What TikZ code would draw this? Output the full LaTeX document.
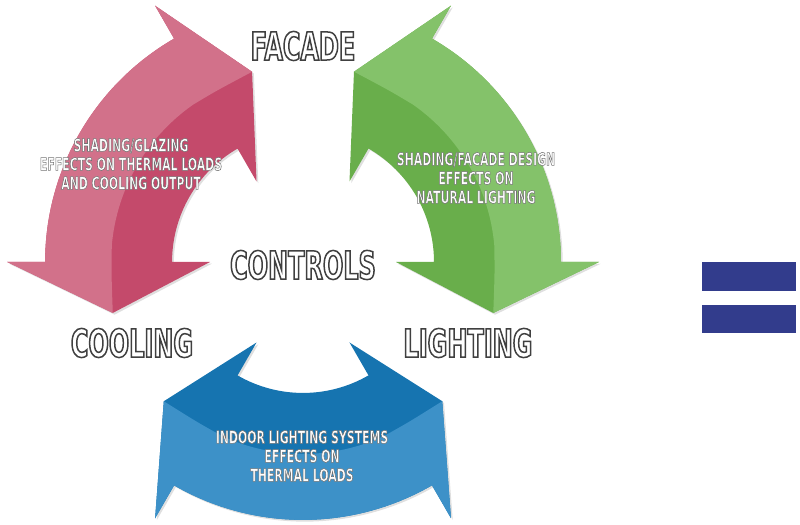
\documentclass[tikz,border=0pt]{standalone}
\usepackage{fontspec}
\setmainfont{DejaVu Sans}
\newfontfamily\narrowfont[FakeStretch=0.62]{DejaVu Sans}
\usetikzlibrary{shadows}

\definecolor{pinklight}{HTML}{D2718A}
\definecolor{pinkdark}{HTML}{C44A6B}
\definecolor{greenlight}{HTML}{84C26A}
\definecolor{greendark}{HTML}{69AE4B}
\definecolor{bluelight}{HTML}{3D91C8}
\definecolor{bluedark}{HTML}{1674B0}
\definecolor{barblue}{HTML}{323C8C}

% white letters with a grey rim (fill + stroke render mode)
\newcommand\rimtext[3]{\special{pdf:literal direct 2 Tr #1 w #2 G}#3\special{pdf:literal direct 0 Tr}}

\tikzset{
  cycletitle/.style={font=\narrowfont\bfseries\fontsize{22}{24}\selectfont, text=white},
  cyclenote/.style={font=\narrowfont\bfseries\fontsize{10}{10.8}\selectfont,
    text=white, align=center, inner sep=0pt},
  arrowshadow/.style={drop shadow={shadow xshift=1pt, shadow yshift=-1pt,
    opacity=0.25}}
}

% one curved double arrow over 0..60 degrees, turned by #1
\newcommand\cyclearrow[3]{%
  \begin{scope}[rotate=#1]
    \fill[#3, arrowshadow] (60:296) -- (75:197) -- (60:93) -- (60:131)
      arc[start angle=60, end angle=0, radius=131] -- (0:93) -- (-15:197)
      -- (0:296) -- (0:258) arc[start angle=0, end angle=60, radius=258]
      -- cycle;
    % outer, lighter half
    \fill[#2] (60:296) -- (75:197) .. controls (63:192) .. (55:192)
      arc[start angle=55, end angle=5, radius=192]
      .. controls (-3:192) .. (-15:197) -- (0:296) -- (0:258)
      arc[start angle=0, end angle=60, radius=258] -- cycle;
  \end{scope}}

\begin{document}
\begin{tikzpicture}[scale=0.02]
  \useasboundingbox (-303,-263) rectangle (497,262);

  \cyclearrow{0}{greenlight}{greendark}
  \cyclearrow{120}{pinklight}{pinkdark}
  \cyclearrow{240}{bluelight}{bluedark}

  \node[cycletitle] (facade) at (0,216) {\rimtext{0.85}{0.25}{FACADE}};
  \node[cycletitle] (controls) at (0,-3) {\rimtext{0.85}{0.25}{CONTROLS}};
  \node[cycletitle] (cooling) at (-171,-81) {\rimtext{0.85}{0.25}{COOLING}};
  \node[cycletitle] (lighting) at (165,-81) {\rimtext{0.85}{0.25}{LIGHTING}};

  \node[cyclenote] (glazing) at (-172,98) {\rimtext{0.3}{0.45}{%
    SHADING/GLAZING\\EFFECTS ON THERMAL LOADS\\AND COOLING OUTPUT}};
  \node[cyclenote] (daylight) at (173,84) {\rimtext{0.3}{0.45}{%
    SHADING/FACADE DESIGN\\EFFECTS ON\\NATURAL LIGHTING}};
  \node[cyclenote] (indoor) at (-1,-194) {\rimtext{0.3}{0.45}{%
    INDOOR LIGHTING SYSTEMS\\EFFECTS ON\\THERMAL LOADS}};

  % equals sign
  \fill[barblue] (399,0) rectangle (493,-29);
  \fill[barblue] (399,-43) rectangle (493,-71);
\end{tikzpicture}
\end{document}
